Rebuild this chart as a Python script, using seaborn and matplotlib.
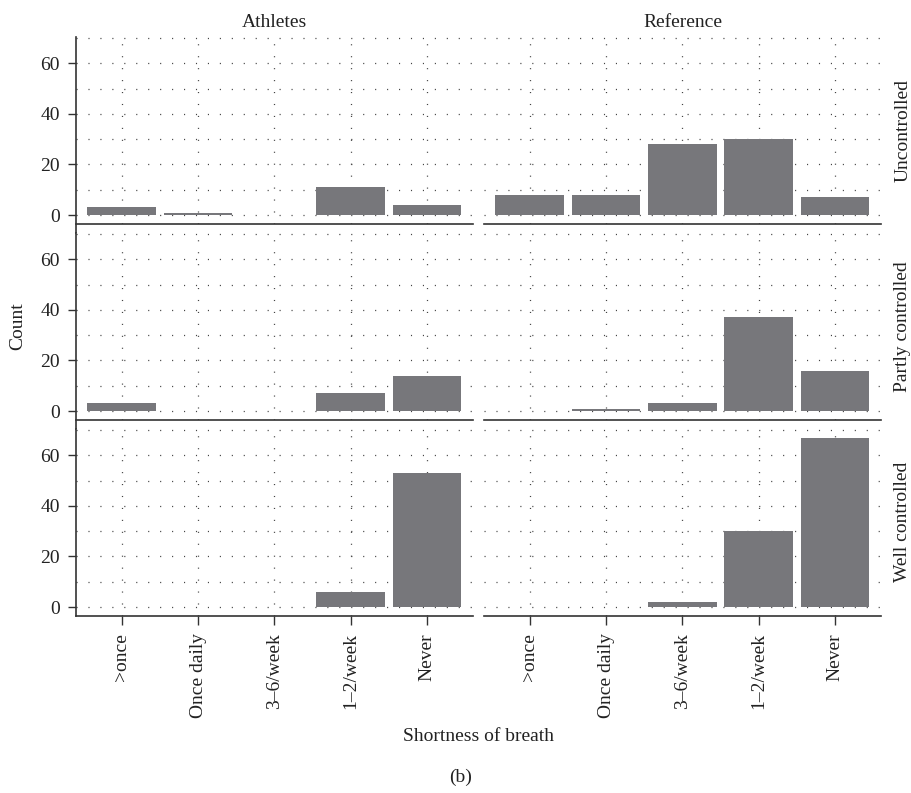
import matplotlib
matplotlib.use("Agg")
import matplotlib.pyplot as plt
import pandas as pd
import seaborn as sns
from matplotlib.ticker import MultipleLocator

# categories
freq = [">once", "Once daily", "3\u20136/week", "1\u20132/week", "Never"]
groups = ["Athletes", "Reference"]
control = ["Uncontrolled", "Partly controlled", "Well controlled"]

# counts (order follows freq)
ath_unc = [3, 1, 0, 11, 4]
ath_part = [3, 0, 0, 7, 14]
ath_well = [0, 0, 0, 6, 53]
ref_unc = [8, 8, 28, 30, 7]
ref_part = [0, 1, 3, 37, 16]
ref_well = [0, 0, 2, 30, 67]

counts = {
    ("Athletes", "Uncontrolled"): ath_unc,
    ("Athletes", "Partly controlled"): ath_part,
    ("Athletes", "Well controlled"): ath_well,
    ("Reference", "Uncontrolled"): ref_unc,
    ("Reference", "Partly controlled"): ref_part,
    ("Reference", "Well controlled"): ref_well,
}
rows = []
for (g, c), vals in counts.items():
    for f, v in zip(freq, vals):
        rows.append({"group": g, "control": c, "sob": f, "count": v})
df = pd.DataFrame(rows)

sns.set_theme(style="white")
plt.rcParams["font.family"] = ["Liberation Serif", "DejaVu Serif"]
plt.rcParams["lines.scale_dashes"] = False
txt = "#222222"
fs = 14

g = sns.catplot(data=df, x="sob", y="count", col="group", row="control",
                col_order=groups, row_order=control, order=freq,
                kind="bar", color="#77777b", saturation=1, width=0.9,
                errorbar=None, sharex=True, sharey=True, linewidth=0,
                height=2.5, aspect=1.6)
fig = g.figure
fig.set_size_inches(9.11, 7.93)
g.set_titles("")
g.set_axis_labels("", "")

ymin, ymax = -3.35, 70.35
gap = 3.8  # spacing between rows, in data units
dots = (0, (0.8, 7.8))
for i, c in enumerate(control):
    for j, grp in enumerate(groups):
        ax = g.axes[i, j]
        ax.set_xlim(-0.6, 4.6)
        ax.set_ylim(ymin, ymax)
        ax.yaxis.set_major_locator(MultipleLocator(20))
        ax.yaxis.set_minor_locator(MultipleLocator(10))
        ax.set_axisbelow(True)
        ax.grid(True, which="both", axis="y", color="#444444", lw=0.9, ls=dots)
        ax.grid(True, which="major", axis="x", color="#444444", lw=0.9, ls=dots)
        ax.tick_params(which="minor", length=0)
        ax.tick_params(axis="y", length=5.5, width=1, color="#333333", pad=6,
                       labelsize=fs, labelcolor=txt, left=(j == 0))
        ax.tick_params(axis="x", length=6.5, width=1, color="#333333", pad=6,
                       labelsize=fs, labelcolor=txt, bottom=(i == 2),
                       labelrotation=90)
        ax.spines["bottom"].set_color("#333333")
        ax.spines["bottom"].set_linewidth(1.2)
        ax.spines["left"].set_color("#333333")
        ax.spines["left"].set_linewidth(1.2)
        ax.spines["left"].set_visible(j == 0)
        if i < 2:
            ax.spines["left"].set_bounds(ymin - gap, ymax)
        ax.spines["top"].set_visible(False)
        ax.spines["right"].set_visible(False)
        if i == 0:
            ax.set_title(grp, fontsize=fs, color=txt, pad=7)
        if j == 1:
            ax.text(1.055, 0.5, c, transform=ax.transAxes, rotation=90,
                    ha="center", va="center", fontsize=fs, color=txt)

fig.subplots_adjust(left=0.0834, right=0.967, top=0.9533, bottom=0.2238,
                    wspace=0.028, hspace=0.051)
fig.text(0.02, 0.589, "Count", rotation=90, ha="center", va="center",
         fontsize=fs, color=txt)
fig.text(0.525, 0.071, "Shortness of breath", ha="center", va="center",
         fontsize=fs, color=txt)
fig.text(0.506, 0.02, "(b)", ha="center", va="center", fontsize=fs, color=txt)

fig.savefig("out.png", dpi=100, facecolor="white")
